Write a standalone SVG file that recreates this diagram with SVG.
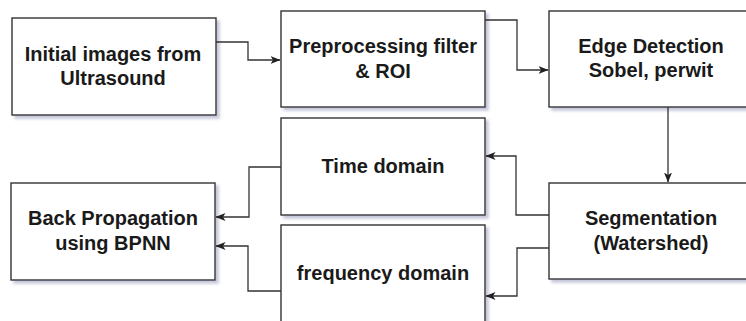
<svg xmlns="http://www.w3.org/2000/svg" width="746" height="321" viewBox="0 0 746 321">
<defs>
<filter id="sh" x="-10%" y="-10%" width="125%" height="130%">
<feDropShadow dx="3" dy="3" stdDeviation="1.5" flood-color="#7a80a8" flood-opacity="0.45"/>
</filter>
<marker id="arr" viewBox="0 0 10 8" refX="9.5" refY="4" markerWidth="10" markerHeight="8" markerUnits="userSpaceOnUse" orient="auto">
<path d="M0,0 L10,4 L0,8 L2.5,4 z" fill="#222"/>
</marker>
<style>
.box{fill:#fff;stroke:#333;stroke-width:1.4;filter:url(#sh)}
.t{font-family:"Liberation Sans",Arial,sans-serif;font-weight:bold;font-size:20px;fill:#1a1a1a;text-anchor:middle}
.c{fill:none;stroke:#333;stroke-width:1.3;marker-end:url(#arr)}
</style>
</defs>
<rect width="746" height="321" fill="#fff"/>
<g id="initial">
<rect class="box" x="12" y="18" width="204" height="97"/>
<text class="t" x="113" y="61">Initial images from</text>
<text class="t" x="113" y="85">Ultrasound</text>
</g>
<g id="preprocessing">
<rect class="box" x="281" y="11" width="204" height="96"/>
<text class="t" x="383" y="53">Preprocessing filter</text>
<text class="t" x="383" y="78">&amp; ROI</text>
</g>
<g id="edge">
<rect class="box" x="549" y="11" width="204" height="96"/>
<text class="t" x="651" y="53">Edge Detection</text>
<text class="t" x="651" y="77">Sobel, perwit</text>
</g>
<g id="segmentation">
<rect class="box" x="549" y="183" width="204" height="96"/>
<text class="t" x="651" y="225">Segmentation</text>
<text class="t" x="651" y="250">(Watershed)</text>
</g>
<g id="time">
<rect class="box" x="281" y="118" width="204" height="97"/>
<text class="t" x="383" y="173">Time domain</text>
</g>
<g id="frequency">
<rect class="box" x="281" y="225" width="204" height="97"/>
<text class="t" x="383" y="280">frequency domain</text>
</g>
<g id="backprop">
<rect class="box" x="11" y="183" width="204" height="97"/>
<text class="t" x="113" y="225">Back Propagation</text>
<text class="t" x="113" y="250">using BPNN</text>
</g>
<g id="connectors">
<path class="c" d="M216,42 H248 V60 H280"/>
<path class="c" d="M485,20 H517 V70 H548"/>
<path class="c" d="M668,107 V182"/>
<path class="c" d="M549,215 H516 V156 H486"/>
<path class="c" d="M549,248 H517 V296 H486"/>
<path class="c" d="M281,167 H249 V217 H216"/>
<path class="c" d="M281,291 H248 V246 H216"/>
</g>
</svg>
